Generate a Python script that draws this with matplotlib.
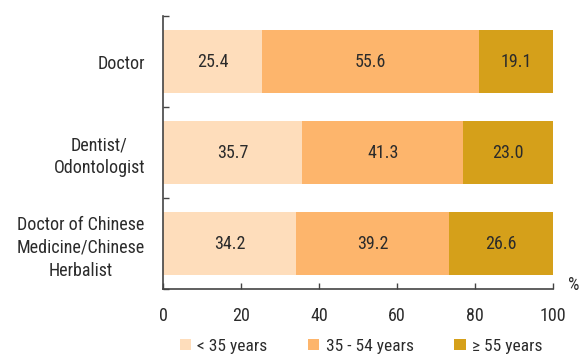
import matplotlib
matplotlib.use("Agg")
import matplotlib.pyplot as plt
from matplotlib import font_manager as fm
from matplotlib.patches import Patch

# Prefer a narrow sans face; fall back to regular Liberation Sans at a smaller size
installed = {f.name for f in fm.fontManager.ttflist}
narrow = next((n for n in ["Liberation Sans Narrow", "Arial Narrow", "Roboto Condensed"]
               if n in installed), None)
if narrow:
    plt.rcParams['font.family'] = [narrow, 'DejaVu Sans']
    fs, legend_fs, line_sp = 13, 12.5, 1.35
else:
    plt.rcParams['font.family'] = ['Liberation Sans', 'DejaVu Sans']
    fs, legend_fs, line_sp = 12, 11, 1.5

categories = ["Doctor", "Dentist/\nOdontologist", "Doctor of Chinese\nMedicine/Chinese\nHerbalist"]
series_names = ["< 35 years", "35 - 54 years", "\u2265 55 years"]
under_35 = [25.4, 35.7, 34.2]
age_35_54 = [55.6, 41.3, 39.2]
over_55 = [19.1, 23.0, 26.6]
x_ticks = [0, 20, 40, 60, 80, 100]

colors = ["#FEDDBB", "#FDB56C", "#D5A01A"]
text_color = "#2b2b2b"
axis_color = "#444444"

fig = plt.figure(figsize=(5.81, 3.56), dpi=100)
ax = fig.add_axes([163 / 581, 1 - 289 / 356, (553 - 163) / 581, (289 - 16) / 356])

ypos = list(range(len(categories)))
left = [0.0] * len(categories)
for vals, col in zip([under_35, age_35_54, over_55], colors):
    bars = ax.barh(ypos, vals, left=left, height=0.70, color=col, edgecolor="none")
    for b, v in zip(bars, vals):
        ax.text(b.get_x() + b.get_width() / 2, b.get_y() + b.get_height() / 2,
                f"{v:.1f}", ha="center", va="center", fontsize=fs, color=text_color)
    left = [l + v for l, v in zip(left, vals)]

ax.set_xlim(0, 100)
ax.set_ylim(len(categories) - 0.5, -0.5)
ax.set_xticks(x_ticks)
ax.set_xticklabels([str(t) for t in x_ticks], fontsize=fs, color=text_color)
ax.set_yticks(ypos)
ax.set_yticklabels(categories, fontsize=fs, color=text_color, linespacing=line_sp,
                   multialignment="center")
ax.tick_params(axis="y", length=0, pad=13)
ax.tick_params(axis="x", direction="in", length=4, width=1, color=axis_color, pad=13)

# category separators on the value axis
ax.set_yticks([-0.5, 0.5, 1.5, 2.5], minor=True)
ax.tick_params(axis="y", which="minor", direction="in", length=4, width=1, color=axis_color)

for s in ["top", "right"]:
    ax.spines[s].set_visible(False)
for s in ["left", "bottom"]:
    ax.spines[s].set_color(axis_color)
    ax.spines[s].set_linewidth(1.2)

ax.text(1.038, 0.015, "%", transform=ax.transAxes, fontsize=fs, color=text_color,
        ha="left", va="center")

handles = [Patch(facecolor=c, edgecolor="none") for c in colors]
fig.legend(handles, series_names, loc="center", bbox_to_anchor=(361 / 581, 1 - 346 / 356),
           ncol=3, frameon=False, fontsize=legend_fs, handlelength=0.65, handleheight=0.65,
           handletextpad=0.35, columnspacing=2.35, labelcolor=text_color,
           borderpad=0, borderaxespad=0)

fig.savefig("out.png", dpi=100)
